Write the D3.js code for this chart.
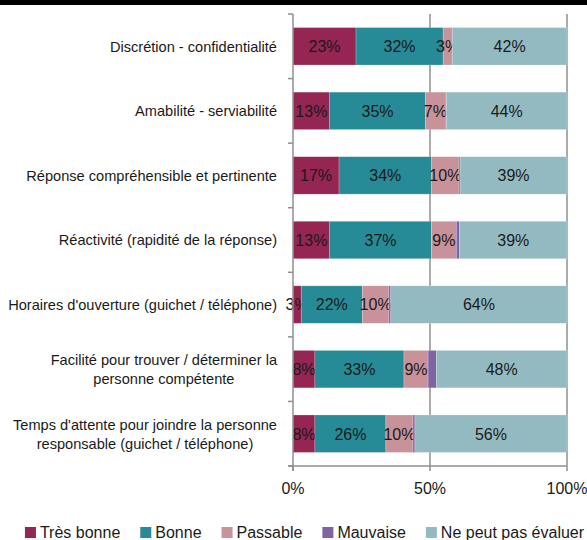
<!DOCTYPE html>
<html>
<head>
<meta charset="utf-8">
<script src="https://cdn.jsdelivr.net/npm/d3@7"></script>
<style>
    body { margin: 0; background: white; }
    svg { display: block; font-family: "Liberation Sans", Arial, sans-serif; }
</style>
</head>
<body>
<svg id="chart" width="587" height="540"></svg>
<script>
// Categories (each entry is a list of label lines)
const categories = [
    ['Discrétion - confidentialité'],
    ['Amabilité - serviabilité'],
    ['Réponse compréhensible et pertinente'],
    ['Réactivité (rapidité de la réponse)'],
    ["Horaires d'ouverture (guichet / téléphone)"],
    ['Facilité pour trouver / déterminer la', 'personne compétente'],
    ["Temps d'attente pour joindre la personne", 'responsable (guichet / téléphone)']
];

const seriesNames = ['Très bonne', 'Bonne', 'Passable', 'Mauvaise', 'Ne peut pas évaluer'];
const seriesColors = ['#952552', '#268B96', '#C79299', '#8064A2', '#94BAC1'];

// values per series, one per category (percent)
const tresBonne = [23.0, 13.4, 16.8, 13.4, 3.0, 8.0, 8.0];
const bonne     = [31.8, 34.9, 33.8, 37.1, 22.3, 32.5, 25.9];
const passable  = [3.3, 7.3, 10.0, 9.1, 9.7, 8.8, 9.9];
const mauvaise  = [0.0, 0.4, 0.4, 1.2, 0.7, 3.0, 0.7];
const nePeutPas = [41.9, 44.0, 39.0, 39.2, 64.3, 47.7, 55.5];

const xTicks = [0, 50, 100];
const showLabels = [true, true, true, false, true];

const allSeries = [tresBonne, bonne, passable, mauvaise, nePeutPas];

const svg = d3.select('#chart');

// Top black rule
svg.append('rect')
    .attr('x', 0).attr('y', 0)
    .attr('width', 587).attr('height', 5)
    .style('fill', 'black');

const plotLeft = 293, plotRight = 567, plotTop = 14, plotBottom = 466;

const x = d3.scaleLinear().domain([0, 100]).range([plotLeft, plotRight]);
const y = d3.scaleBand()
    .domain(d3.range(categories.length))
    .range([plotTop, plotBottom])
    .paddingInner(0.42)
    .paddingOuter(0.21);

// Build stacked data
const rows = categories.map((c, i) => {
    const row = {idx: i};
    seriesNames.forEach((s, j) => { row[s] = allSeries[j][i]; });
    return row;
});
const stacked = d3.stack().keys(seriesNames)(rows);

// Vertical gridlines
svg.append('g')
    .selectAll('line')
    .data(xTicks.slice(1))
    .enter()
    .append('line')
    .attr('x1', d => x(d)).attr('x2', d => x(d))
    .attr('y1', plotTop).attr('y2', plotBottom)
    .style('stroke', '#8f8f8f')
    .style('stroke-width', 1.5);

// Bars
const layers = svg.append('g')
    .selectAll('g')
    .data(stacked)
    .enter()
    .append('g')
    .style('fill', (d, i) => seriesColors[i]);

layers.selectAll('rect')
    .data(d => d)
    .enter()
    .append('rect')
    .attr('x', d => x(d[0]))
    .attr('y', d => y(d.data.idx))
    .attr('width', d => x(d[1]) - x(d[0]))
    .attr('height', y.bandwidth())
    .style('stroke', 'rgba(255,255,255,0.35)')
    .style('stroke-width', 0.6);

// Segment labels
layers.each(function(layer, i) {
    if (!showLabels[i]) return;
    d3.select(this).selectAll('text')
        .data(layer.filter(d => d[1] - d[0] >= 1))
        .enter()
        .append('text')
        .attr('x', d => x((d[0] + d[1]) / 2))
        .attr('y', d => y(d.data.idx) + y.bandwidth() / 2)
        .attr('dy', '0.37em')
        .attr('text-anchor', 'middle')
        .style('font-size', '16px')
        .style('fill', '#1a1a1a')
        .text(d => Math.round(d[1] - d[0]) + '%');
});

// Left axis with ticks between categories
const axisColor = '#8f8f8f';
svg.append('line')
    .attr('x1', plotLeft).attr('x2', plotLeft)
    .attr('y1', plotTop).attr('y2', plotBottom + 5)
    .style('stroke', axisColor).style('stroke-width', 1.5);

const step = (plotBottom - plotTop) / categories.length;
svg.append('g')
    .selectAll('line')
    .data(d3.range(categories.length + 1))
    .enter()
    .append('line')
    .attr('x1', plotLeft - 5).attr('x2', plotLeft)
    .attr('y1', d => plotTop + d * step).attr('y2', d => plotTop + d * step)
    .style('stroke', axisColor).style('stroke-width', 1.5);

// Bottom axis
svg.append('line')
    .attr('x1', plotLeft - 5).attr('x2', plotRight)
    .attr('y1', plotBottom).attr('y2', plotBottom)
    .style('stroke', axisColor).style('stroke-width', 1.5);

svg.append('g')
    .selectAll('line')
    .data(xTicks)
    .enter()
    .append('line')
    .attr('x1', d => x(d)).attr('x2', d => x(d))
    .attr('y1', plotBottom).attr('y2', plotBottom + 5)
    .style('stroke', axisColor).style('stroke-width', 1.5);

svg.append('g')
    .selectAll('text')
    .data(xTicks)
    .enter()
    .append('text')
    .attr('x', d => x(d))
    .attr('y', 494)
    .attr('text-anchor', 'middle')
    .style('font-size', '16px')
    .style('fill', '#1a1a1a')
    .text(d => d + '%');

// Category labels: block right-aligned, lines centred on each other
const labelRight = 277;
categories.forEach((lines, i) => {
    const g = svg.append('g');
    const cy = y(i) + y.bandwidth() / 2;
    const lh = 19;
    const texts = lines.map((line, k) => g.append('text')
        .attr('y', cy + (k - (lines.length - 1) / 2) * lh)
        .attr('dy', '0.37em')
        .attr('text-anchor', 'middle')
        .style('font-size', '14.6px')
        .style('fill', '#1a1a1a')
        .text(line));
    const maxW = d3.max(texts, t => t.node().getComputedTextLength());
    texts.forEach(t => t.attr('x', labelRight - maxW / 2));
});

// Legend
const legend = svg.append('g');
const legendGap = 20;
let lx = 0;
seriesNames.forEach((name, i) => {
    const item = legend.append('g').attr('transform', `translate(${lx}, 0)`);
    item.append('rect')
        .attr('x', 0).attr('y', -11)
        .attr('width', 11).attr('height', 11)
        .style('fill', seriesColors[i]);
    const t = item.append('text')
        .attr('x', 15).attr('y', 0)
        .style('font-size', '16px')
        .style('fill', '#1a1a1a')
        .text(name);
    lx += 15 + t.node().getComputedTextLength() + legendGap;
});
const legendW = lx - legendGap;
legend.attr('transform', `translate(${304.5 - legendW / 2}, 538)`);
</script>
</body>
</html>
